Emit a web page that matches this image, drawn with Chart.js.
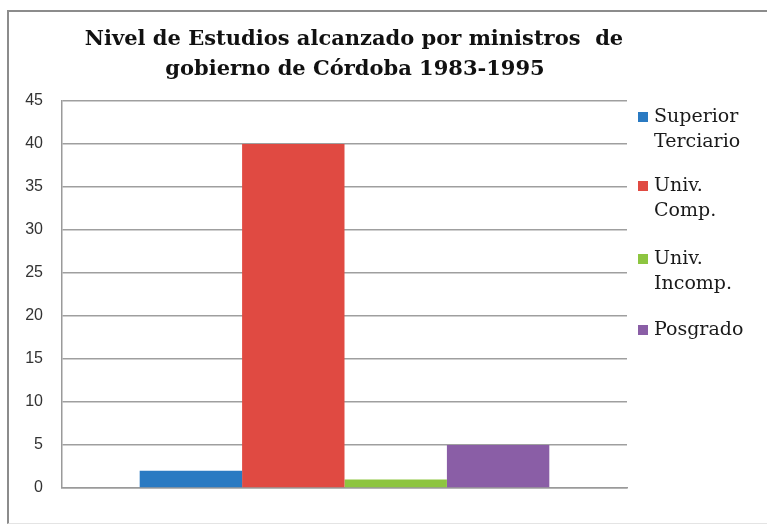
<!DOCTYPE html>
<html>
<head>
<meta charset="utf-8">
<script src="https://cdn.jsdelivr.net/npm/chart.js@4"></script>
<style>
  body { margin: 0; background: #fff; }
  #frame { position: absolute; left: 7px; top: 10px; width: 780px; height: 511px;
           border-left: 2px solid #8c8c8c; border-top: 2px solid #8c8c8c; border-bottom: 1px solid #e4e4e4; }
  #wrap { position: absolute; left: 0; top: 0; width: 767px; height: 526px; }
</style>
</head>
<body>
<div id="frame"></div>
<div id="wrap"><canvas id="nivelChart" width="767" height="526"></canvas></div>
<script>
const titleLines = ['Nivel de Estudios alcanzado por ministros  de', 'gobierno de Córdoba 1983-1995'];
const categories = [''];
const seriesNames = [['Superior', 'Terciario'], ['Univ.', 'Comp.'], ['Univ.', 'Incomp.'], ['Posgrado']];
const seriesValues = [2, 40, 1, 5];
const seriesColors = ['#2a7ac2', '#e04a42', '#8dc540', '#8a5ea6'];
const yTicks = [0, 5, 10, 15, 20, 25, 30, 35, 40, 45];

const serif = '"DejaVu Serif", "Liberation Serif", serif';

// title + multi-line legend drawn by hand
const decorPlugin = {
  id: 'decor',
  afterDraw(chart) {
    const ctx = chart.ctx;
    ctx.save();
    ctx.fillStyle = '#111';
    ctx.textAlign = 'center';
    ctx.textBaseline = 'middle';
    ctx.font = 'bold 21px ' + serif;
    ctx.fillText(titleLines[0], 354, 40);
    ctx.fillText(titleLines[1], 355, 70);

    ctx.textAlign = 'left';
    ctx.font = '19px ' + serif;
    const starts = [117, 186, 259, 330];
    chart.data.datasets.forEach((ds, i) => {
      const y = starts[i];
      ctx.fillStyle = ds.backgroundColor;
      ctx.fillRect(638, y - 5, 10, 10);
      ctx.fillStyle = '#1a1a1a';
      ds.label.forEach((line, j) => ctx.fillText(line, 654, y + j * 25));
    });
    ctx.restore();
  }
};

new Chart(document.getElementById('nivelChart'), {
  type: 'bar',
  data: {
    labels: categories,
    datasets: seriesValues.map((v, i) => ({
      label: seriesNames[i],
      data: [v],
      backgroundColor: seriesColors[i],
      borderWidth: 0
    }))
  },
  options: {
    responsive: false,
    animation: false,
    layout: { padding: { left: 0, right: 140, top: 101, bottom: 38 } },
    plugins: { legend: { display: false }, title: { display: false }, tooltip: { enabled: false } },
    datasets: { bar: { categoryPercentage: 0.725, barPercentage: 1 } },
    scales: {
      x: {
        afterFit(scale) { scale.height = 0; },
        ticks: { display: false },
        grid: { display: false },
        border: { display: true, color: '#9a9a9a', width: 1.5 }
      },
      y: {
        min: 0,
        max: 45,
        afterBuildTicks(scale) { scale.ticks = yTicks.map(v => ({ value: v })); },
        afterFit(scale) { scale.width = 62; },
        ticks: { padding: 19, color: '#333', font: { family: '"Liberation Sans", Arial, sans-serif', size: 16 } },
        grid: { color: '#9f9f9f', lineWidth: 1.5, drawTicks: false },
        border: { display: true, color: '#9a9a9a', width: 1.5 }
      }
    }
  },
  plugins: [decorPlugin]
});
</script>
</body>
</html>
